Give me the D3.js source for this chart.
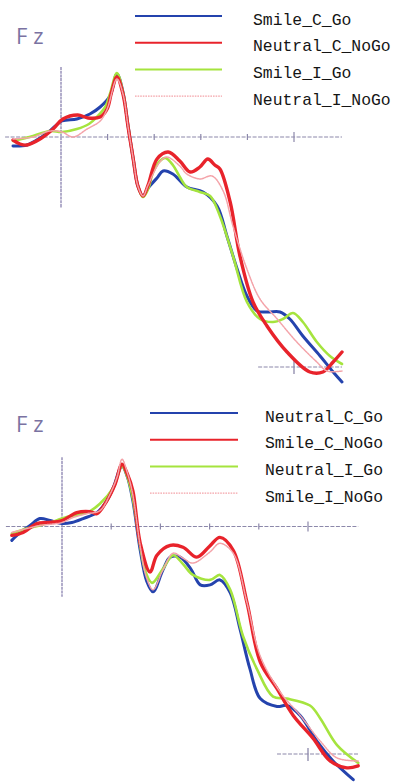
<!DOCTYPE html>
<html>
<head>
<meta charset="utf-8">
<script src="https://cdn.jsdelivr.net/npm/d3@7"></script>
<style>
body { margin: 0; background: #fff; }
svg { display: block; }
</style>
</head>
<body>
<svg id="chart" width="394" height="783"></svg>
<script>
/* --------------------------------------------
 * Fz ERP waveforms, two panels
 * ============================================
 */

// legend names, in drawing order of the legend rows
var topNames = ["Smile_C_Go", "Neutral_C_NoGo", "Smile_I_Go", "Neutral_I_NoGo"];
var bottomNames = ["Neutral_C_Go", "Smile_C_NoGo", "Neutral_I_Go", "Smile_I_NoGo"];

var electrodeLabel = "Fz";

// time ticks (ms) on the zero line
var tickTimes = [100, 200, 300, 400, 500];
var majorTick = 500;
var lowerRefLevel = -23;     // µV, short reference line near the bottom

// [ms, µV] samples - upper panel
var topSmileCGo = [[-103,-0.9],[-73,-0.8],[-45,-0.1],[-24,0.6],[2,1.6],[34,1.8],[62,2.3],[84,3.0],[105,4.1],[120,6.3],[133,4.5],[144,1.1],[155,-2.2],[165,-4.9],[176,-5.9],[187,-5.1],[206,-4.1],[219,-3.4],[240,-3.7],[270,-5.0],[305,-5.5],[335,-6.9],[356,-9.9],[378,-13.2],[399,-15.9],[421,-17.4],[445,-17.5],[470,-17.5],[491,-18.2],[519,-19.9],[556,-21.9],[584,-23.5],[603,-24.5]];
var topNeutralCNoGo = [[-103,-0.3],[-88,-0.7],[-73,-0.8],[-45,-0.2],[-17,0.8],[4,1.8],[36,2.2],[58,1.9],[84,2.0],[99,2.8],[108,4.4],[120,6.0],[133,4.3],[144,1.0],[155,-2.2],[165,-4.9],[176,-5.9],[187,-4.8],[206,-2.2],[230,-1.5],[255,-2.4],[277,-3.5],[298,-3.0],[315,-2.2],[330,-2.8],[341,-3.2],[363,-6.5],[384,-11.9],[412,-16.5],[442,-18.9],[485,-21.5],[534,-23.5],[562,-23.5],[584,-22.5],[603,-21.5]];
var topSmileIGo = [[-103,-0.4],[-60,0.1],[-24,0.6],[2,0.5],[34,0.8],[60,1.3],[77,2.0],[95,3.0],[105,4.3],[120,6.4],[133,4.5],[144,1.1],[155,-2.2],[165,-4.9],[176,-6.0],[187,-5.2],[197,-3.6],[212,-2.4],[224,-2.1],[240,-2.8],[255,-4.0],[270,-5.0],[298,-5.5],[320,-5.9],[341,-7.9],[369,-11.9],[399,-16.5],[427,-18.2],[455,-18.5],[476,-18.2],[498,-17.6],[519,-18.5],[549,-20.5],[577,-21.9],[603,-22.7]];
var topNeutralINoGo = [[-103,-0.2],[-60,0.0],[-24,0.6],[2,0.5],[26,0.0],[56,0.8],[84,1.6],[99,2.8],[120,5.8],[133,4.3],[144,1.0],[155,-2.2],[165,-4.9],[176,-5.9],[187,-4.8],[212,-2.5],[227,-2.0],[255,-2.9],[270,-3.7],[298,-4.2],[324,-3.9],[348,-5.4],[369,-8.9],[399,-13.2],[427,-16.2],[464,-18.2],[506,-20.5],[549,-22.5],[571,-23.4],[603,-23.4]];

// [ms, µV] samples - lower panel
var botNeutralCGo = [[-102,-1.4],[-85,-0.6],[-65,0.1],[-45,0.8],[-24,0.6],[0,0.3],[20,0.4],[43,0.8],[71,1.4],[91,2.6],[104,3.9],[122,6.1],[133,5.0],[144,2.6],[159,-2.4],[172,-5.5],[185,-6.6],[205,-4.4],[220,-3.1],[240,-3.1],[262,-4.3],[281,-5.9],[301,-5.9],[321,-5.4],[342,-6.7],[362,-10.4],[382,-14.4],[403,-17.4],[437,-18.2],[457,-18.1],[484,-19.1],[518,-21.7],[551,-23.7],[592,-25.6]];
var botSmileCNoGo = [[-102,-0.9],[-79,-0.6],[-51,0.3],[-30,0.4],[0,0.6],[30,1.4],[57,1.5],[71,1.3],[91,2.6],[108,4.3],[122,6.3],[133,5.3],[144,3.6],[159,-1.7],[179,-4.6],[193,-2.9],[220,-1.9],[246,-2.1],[274,-3.1],[300,-2.0],[321,-1.1],[348,-2.4],[376,-7.7],[403,-13.7],[437,-16.4],[470,-19.1],[510,-21.4],[545,-23.7],[579,-24.4],[602,-24.2]];
var botNeutralIGo = [[-102,-0.7],[-71,-0.2],[-45,0.1],[-24,0.4],[0,0.8],[22,1.1],[51,1.4],[77,2.3],[104,3.9],[122,6.1],[133,5.0],[144,2.8],[159,-2.0],[170,-4.6],[183,-5.7],[205,-4.3],[226,-2.9],[246,-3.8],[266,-4.9],[301,-5.4],[321,-4.9],[342,-6.4],[368,-11.1],[396,-14.4],[429,-17.2],[457,-17.4],[504,-18.1],[525,-19.4],[559,-22.1],[602,-23.9]];
var botSmileINoGo = [[-102,-0.6],[-71,-0.2],[-45,0.1],[0,0.4],[22,0.9],[51,1.3],[77,1.6],[98,3.3],[112,5.0],[122,6.8],[133,5.4],[144,3.2],[159,-2.0],[172,-5.2],[185,-6.4],[205,-4.4],[226,-2.7],[246,-3.2],[266,-3.7],[300,-2.6],[321,-1.7],[348,-2.7],[376,-7.7],[403,-13.1],[443,-16.7],[484,-19.1],[525,-21.7],[559,-23.4],[602,-23.7]];

var topSeries = [topSmileCGo, topNeutralCNoGo, topSmileIGo, topNeutralINoGo];
var bottomSeries = [botNeutralCGo, botSmileCNoGo, botNeutralIGo, botSmileINoGo];

// line styles by legend row: blue, red, green, pink dotted
var STYLES = [
	{ color: "#2443ad", width: 3,   dash: null },
	{ color: "#e8232b", width: 3.4, dash: null },
	{ color: "#a5e43e", width: 2.6, dash: null },
	{ color: "#f4a3a9", width: 1.5, dash: "1.6,1" }
];
var DRAW_ORDER = [0, 2, 1, 3];
var AXIS_COLOR = "#8c88aa";

var svg = d3.select("#chart");

function drawPanel(cfg)
{
	var g = svg.append("g");

	var x = d3.scaleLinear().domain([0, 500]).range([cfg.x0, cfg.x500]);
	var y = d3.scaleLinear().domain([0, lowerRefLevel]).range([cfg.yZero, cfg.yLower]);

	// electrode label
	g.append("text")
		.attr("x", 16)
		.attr("y", cfg.labelY)
		.attr("font-family", "'Open Sans', sans-serif")
		.attr("font-weight", 400)
		.attr("font-size", "22px")
		.attr("letter-spacing", "6px")
		.attr("fill", "#7a72a2")
		.text(electrodeLabel);

	// zero line with time ticks
	g.append("line")
		.attr("x1", x(cfg.axisFrom)).attr("x2", x(cfg.axisTo))
		.attr("y1", y(0)).attr("y2", y(0))
		.attr("stroke", AXIS_COLOR)
		.attr("stroke-width", 1.1)
		.attr("stroke-dasharray", "4,1.5");

	g.selectAll("line.tick").data(tickTimes).enter()
		.append("line")
		.attr("class", "tick")
		.attr("x1", function(d) { return x(d); })
		.attr("x2", function(d) { return x(d); })
		.attr("y1", function(d) { return y(0) - (d == majorTick ? 5 : 3); })
		.attr("y2", function(d) { return y(0) + (d == majorTick ? 5 : 3); })
		.attr("stroke", AXIS_COLOR)
		.attr("stroke-width", 1.2);

	// vertical line at stimulus onset
	g.append("line")
		.attr("x1", x(0)).attr("x2", x(0))
		.attr("y1", y(7)).attr("y2", y(-7.1))
		.attr("stroke", "#9993ba")
		.attr("stroke-width", 1.5)
		.attr("stroke-dasharray", "3,0.7");

	// short reference line near the bottom
	g.append("line")
		.attr("x1", x(cfg.lowerFrom)).attr("x2", x(cfg.axisTo))
		.attr("y1", y(lowerRefLevel)).attr("y2", y(lowerRefLevel))
		.attr("stroke", AXIS_COLOR)
		.attr("stroke-width", 1.1)
		.attr("stroke-dasharray", "4,1.5");
	g.append("line")
		.attr("x1", x(majorTick)).attr("x2", x(majorTick))
		.attr("y1", y(lowerRefLevel) - 6).attr("y2", y(lowerRefLevel) + 7)
		.attr("stroke", AXIS_COLOR)
		.attr("stroke-width", 1.3);

	// waveforms
	var line = d3.line()
		.x(function(d) { return x(d[0]); })
		.y(function(d) { return y(d[1]); })
		.curve(d3.curveCatmullRom.alpha(0.5));

	DRAW_ORDER.forEach(function(i) {
		var st = STYLES[i];
		g.append("path")
			.attr("d", line(cfg.series[i]))
			.attr("fill", "none")
			.attr("stroke", st.color)
			.attr("stroke-width", st.width)
			.attr("stroke-linejoin", "round")
			.attr("stroke-linecap", "round")
			.attr("stroke-dasharray", st.dash);
	});

	// legend
	var rows = g.selectAll("g.legendRow").data(cfg.names).enter()
		.append("g").attr("class", "legendRow")
		.attr("transform", function(d, i) { return "translate(0," + (i * cfg.legendStep) + ")"; });

	rows.append("line")
		.attr("x1", cfg.legendX1).attr("x2", cfg.legendX2)
		.attr("y1", cfg.legendY).attr("y2", cfg.legendY)
		.attr("stroke", function(d, i) { return STYLES[i].color; })
		.attr("stroke-width", function(d, i) { return i == 3 ? 1.3 : 2; })
		.attr("stroke-dasharray", function(d, i) { return STYLES[i].dash; });

	rows.append("text")
		.attr("x", cfg.textX)
		.attr("y", cfg.legendY + 8.5)
		.attr("font-family", "'Liberation Mono', 'DejaVu Sans Mono', monospace")
		.attr("font-size", "16.4px")
		.attr("fill", "#151515")
		.text(function(d) { return d; });
}

drawPanel({
	series: topSeries, names: topNames,
	x0: 61, x500: 294, yZero: 137, yLower: 367,
	axisFrom: -120, axisTo: 603, lowerFrom: 423,
	labelY: 44,
	legendX1: 135, legendX2: 222, legendY: 16, legendStep: 26.7, textX: 253
});

drawPanel({
	series: bottomSeries, names: bottomNames,
	x0: 62, x500: 308, yZero: 526.5, yLower: 754,
	axisFrom: -114, axisTo: 602, lowerFrom: 437,
	labelY: 432,
	legendX1: 150, legendX2: 238, legendY: 413, legendStep: 26.7, textX: 265
});
</script>
</body>
</html>
